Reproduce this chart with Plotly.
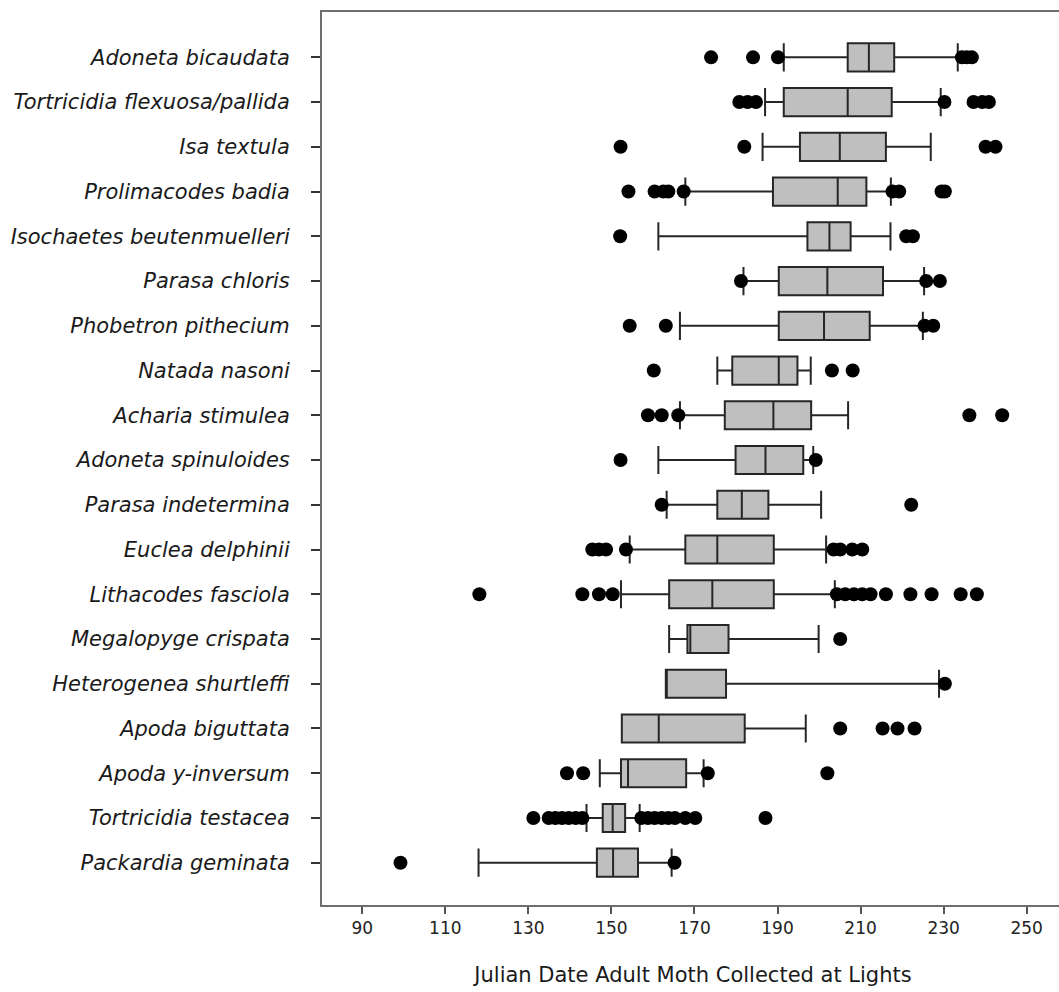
import plotly.graph_objects as go

species = [
    "Adoneta bicaudata", "Tortricidia flexuosa/pallida", "Isa textula",
    "Prolimacodes badia", "Isochaetes beutenmuelleri", "Parasa chloris",
    "Phobetron pithecium", "Natada nasoni", "Acharia stimulea",
    "Adoneta spinuloides", "Parasa indetermina", "Euclea delphinii",
    "Lithacodes fasciola", "Megalopyge crispata", "Heterogenea shurtleffi",
    "Apoda biguttata", "Apoda y-inversum", "Tortricidia testacea",
    "Packardia geminata",
]

lower_fence = [191.5, 187.0, 186.4, 167.8, 161.3, 181.8, 166.5, 175.5, 166.5,
               161.3, 163.3, 154.4, 152.3, 163.9, 163.1, 152.5, 147.2, 144.0, 118.0]
q1 = [206.9, 191.5, 195.4, 188.9, 197.2, 190.3, 190.3, 179.1, 177.3,
      179.9, 175.5, 167.8, 163.9, 168.3, 163.1, 152.5, 152.3, 147.9, 146.5]
median = [212.0, 206.9, 205.0, 204.5, 202.5, 202.0, 201.2, 190.3, 189.0,
          187.1, 181.4, 175.5, 174.3, 169.0, 163.1, 161.4, 154.0, 150.3, 150.4]
q3 = [218.1, 217.5, 216.1, 211.4, 207.6, 215.4, 212.2, 194.8, 198.1,
      196.2, 187.8, 189.1, 189.1, 178.2, 177.6, 182.1, 168.0, 153.3, 156.4]
upper_fence = [233.4, 229.3, 226.9, 217.3, 217.2, 225.3, 225.0, 198.0, 207.0,
               198.6, 200.5, 201.7, 203.8, 199.9, 228.9, 196.8, 172.2, 156.8, 164.5]

outliers = [
    [174.0, 184.1, 190.1, 234.4, 235.6, 236.8],
    [180.8, 182.8, 184.8, 230.2, 237.2, 239.3, 240.9],
    [152.2, 182.0, 240.1, 242.5],
    [154.1, 160.4, 162.5, 163.7, 167.4, 217.7, 219.3, 229.5, 230.3],
    [152.1, 221.0, 222.6],
    [181.2, 225.8, 229.1],
    [154.4, 163.1, 225.4, 227.5],
    [160.2, 203.1, 208.1],
    [158.8, 162.1, 166.1, 236.2, 244.1],
    [152.2, 199.2],
    [162.1, 222.2],
    [145.4, 147.0, 148.7, 153.5, 203.5, 205.1, 208.0, 210.4],
    [118.2, 143.0, 147.0, 150.3, 204.3, 206.3, 208.4, 210.4, 212.4, 216.1,
     222.0, 227.1, 234.1, 238.0],
    [205.1],
    [230.3],
    [205.1, 215.3, 218.9, 223.0],
    [139.3, 143.2, 173.2, 202.0],
    [131.2, 134.9, 136.5, 138.1, 139.7, 141.4, 143.0, 157.2, 158.8, 160.4,
     162.1, 163.7, 165.3, 167.8, 170.2, 187.1],
    [99.2, 165.2],
]

x_ticks = [90, 110, 130, 150, 170, 190, 210, 230, 250]
x_title = "Julian Date Adult Moth Collected at Lights"

fig = go.Figure()

for i, sp in enumerate(species):
    fig.add_trace(go.Box(
        y=[sp], q1=[q1[i]], median=[median[i]], q3=[q3[i]],
        lowerfence=[lower_fence[i]], upperfence=[upper_fence[i]],
        orientation="h", boxpoints=False, width=0.63, whiskerwidth=1,
        fillcolor="#bfbfbf", line=dict(color="#262626", width=2),
        showlegend=False, hoverinfo="skip",
    ))

ox, oy = [], []
for sp, vals in zip(species, outliers):
    for v in vals:
        ox.append(v)
        oy.append(sp)

fig.add_trace(go.Scatter(
    x=ox, y=oy, mode="markers",
    marker=dict(color="#000000", size=14, line=dict(width=0)),
    showlegend=False, hoverinfo="skip",
))

fig.update_layout(
    width=1064, height=992,
    margin=dict(l=322, r=0, t=12, b=87, autoexpand=False),
    paper_bgcolor="white", plot_bgcolor="white",
    boxmode="overlay",
    font=dict(family="DejaVu Sans, Liberation Sans, Arial, sans-serif", color="#1a1a1a"),
)

fig.update_xaxes(
    range=[80.3, 258.99], tickvals=x_ticks, ticktext=[str(t) for t in x_ticks],
    showgrid=False, zeroline=False,
    showline=True, linecolor="#6e6e6e", linewidth=2, mirror=True,
    ticks="outside", ticklen=7, tickwidth=2, tickcolor="#555555",
    tickfont=dict(size=17, color="#222222"),
    title=dict(text=x_title, font=dict(size=21, color="#1a1a1a"), standoff=30),
    automargin=False,
)

fig.update_yaxes(
    type="category", categoryorder="array", categoryarray=species,
    range=[18.945, -1.013],
    showgrid=False, zeroline=False,
    showline=True, linecolor="#6e6e6e", linewidth=2, mirror=False,
    ticks="outside", ticklen=9, tickwidth=2, tickcolor="#333333",
    tickfont=dict(size=21, color="#1a1a1a",
                  family="DejaVu Sans, Liberation Sans, sans-serif", style="italic"),
    ticklabelstandoff=17,
    automargin=False,
)

fig.write_html(
    "out.html",
    config={"displayModeBar": False},
    post_script="document.body.style.margin='0';document.body.style.overflow='hidden';",
)
